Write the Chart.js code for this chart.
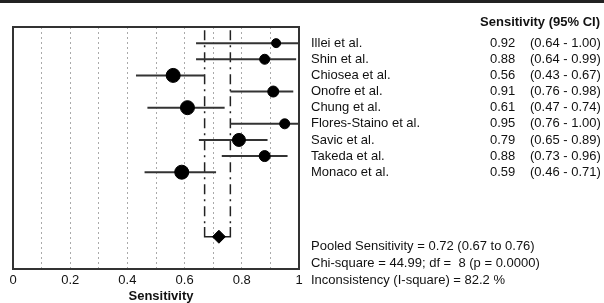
<!DOCTYPE html>
<html>
<head>
<meta charset="utf-8">
<script src="https://cdn.jsdelivr.net/npm/chart.js@4.4.1/dist/chart.umd.min.js"></script>
<style>
  body { margin: 0; background: #fff; }
  canvas { display: block; }
</style>
</head>
<body>
<canvas id="forestChart" width="604" height="303"></canvas>
<script>
// study data
const studies = ["Illei et al.", "Shin et al.", "Chiosea et al.", "Onofre et al.", "Chung et al.",
    "Flores-Staino et al.", "Savic et al.", "Takeda et al.", "Monaco et al."];
const sensitivity = [0.92, 0.88, 0.56, 0.91, 0.61, 0.95, 0.79, 0.88, 0.59];
const ciLow = [0.64, 0.64, 0.43, 0.76, 0.47, 0.76, 0.65, 0.73, 0.46];
const ciHigh = [1.00, 0.99, 0.67, 0.98, 0.74, 1.00, 0.89, 0.96, 0.71];

const pooled = [0.72];
const pooledLow = [0.67];
const pooledHigh = [0.76];

const xTickLabels = ["0", "0.2", "0.4", "0.6", "0.8", "1"];
const summaryLines = [
    "Pooled Sensitivity = 0.72 (0.67 to 0.76)",
    "Chi-square = 44.99; df =  8 (p = 0.0000)",
    "Inconsistency (I-square) = 82.2 %"
];

// marker size ~ study weight
const markerRadius = [4.5, 5, 7, 5.5, 7, 5, 6.5, 5.5, 7];

const pooledRow = 13;
const fmt = (v) => v.toFixed(2);
const fontFamily = '"Liberation Sans", Arial, sans-serif';

const ciDatasets = studies.map((name, i) => ({
    type: 'line',
    data: [{x: ciLow[i], y: i + 1}, {x: ciHigh[i], y: i + 1}],
    borderColor: '#333',
    borderWidth: 2,
    pointRadius: 0,
    order: 2
}));

const forestFrame = {
    id: 'forestFrame',
    beforeDraw(chart) {
        const ctx = chart.ctx;
        ctx.save();
        ctx.fillStyle = '#222';
        ctx.fillRect(0, 0, chart.width, 3);
        ctx.restore();
    },
    afterDraw(chart) {
        const ctx = chart.ctx;
        const area = chart.chartArea;
        const yScale = chart.scales.y;
        ctx.save();
        ctx.strokeStyle = '#333';
        ctx.lineWidth = 2;
        ctx.strokeRect(area.left, area.top, area.right - area.left, area.bottom - area.top);

        ctx.fillStyle = '#111';
        ctx.textBaseline = 'middle';

        // axis title
        ctx.textAlign = 'center';
        ctx.font = 'bold 13px ' + fontFamily;
        ctx.fillText("Sensitivity", 161, 296);

        ctx.textAlign = 'right';
        ctx.fillText("Sensitivity (95% CI)", 600, 22);

        ctx.textAlign = 'left';
        ctx.font = '13px ' + fontFamily;
        studies.forEach((name, i) => {
            const y = yScale.getPixelForValue(i + 1);
            ctx.fillText(name, 311, y);
            ctx.fillText(fmt(sensitivity[i]), 490, y);
            ctx.fillText("(" + fmt(ciLow[i]) + " - " + fmt(ciHigh[i]) + ")", 530, y);
        });
        summaryLines.forEach((line, i) => {
            ctx.fillText(line, 311, 246 + i * 17);
        });
        ctx.restore();
    }
};

new Chart(document.getElementById('forestChart'), {
    type: 'scatter',
    data: {
        datasets: [
            {
                data: studies.map((s, i) => ({x: sensitivity[i], y: i + 1})),
                backgroundColor: '#000',
                borderColor: '#000',
                pointRadius: markerRadius,
                pointHoverRadius: markerRadius,
                order: 0
            },
            {
                data: [{x: pooled[0], y: pooledRow}],
                pointStyle: 'rectRot',
                backgroundColor: '#000',
                borderColor: '#000',
                pointRadius: 6.5,
                order: 0
            },
            ...ciDatasets,
            {
                type: 'line',
                data: [{x: pooledLow[0], y: 0.2}, {x: pooledLow[0], y: pooledRow - 0.6}],
                borderColor: '#222',
                borderWidth: 1.5,
                borderDash: [10, 5, 2, 5],
                pointRadius: 0,
                order: 3
            },
            {
                type: 'line',
                data: [{x: pooledHigh[0], y: 0.2}, {x: pooledHigh[0], y: pooledRow - 0.6}],
                borderColor: '#222',
                borderWidth: 1.5,
                borderDash: [10, 5, 2, 5],
                pointRadius: 0,
                order: 3
            },
            {
                type: 'line',
                data: [
                    {x: pooledLow[0], y: pooledRow - 0.6},
                    {x: pooledLow[0], y: pooledRow},
                    {x: pooledHigh[0], y: pooledRow},
                    {x: pooledHigh[0], y: pooledRow - 0.6}
                ],
                borderColor: '#222',
                borderWidth: 1.5,
                pointRadius: 0,
                order: 3
            }
        ]
    },
    options: {
        responsive: false,
        animation: false,
        layout: {
            padding: {left: 13, top: 27, right: 305, bottom: 11}
        },
        plugins: {
            legend: {display: false},
            tooltip: {enabled: false}
        },
        scales: {
            x: {
                type: 'linear',
                min: 0,
                max: 1,
                border: {display: false, dash: [2, 3]},
                grid: {color: '#aaa', lineWidth: 1, drawTicks: false},
                ticks: {
                    stepSize: 0.1,
                    autoSkip: false,
                    maxRotation: 0,
                    padding: 5,
                    color: '#111',
                    font: {family: fontFamily, size: 13, lineHeight: 1},
                    callback: (v, i) => (i % 2 === 0 ? xTickLabels[i / 2] : '')
                }
            },
            y: {
                type: 'linear',
                display: false,
                reverse: true,
                min: 0,
                max: 15
            }
        }
    },
    plugins: [forestFrame]
});
</script>
</body>
</html>
